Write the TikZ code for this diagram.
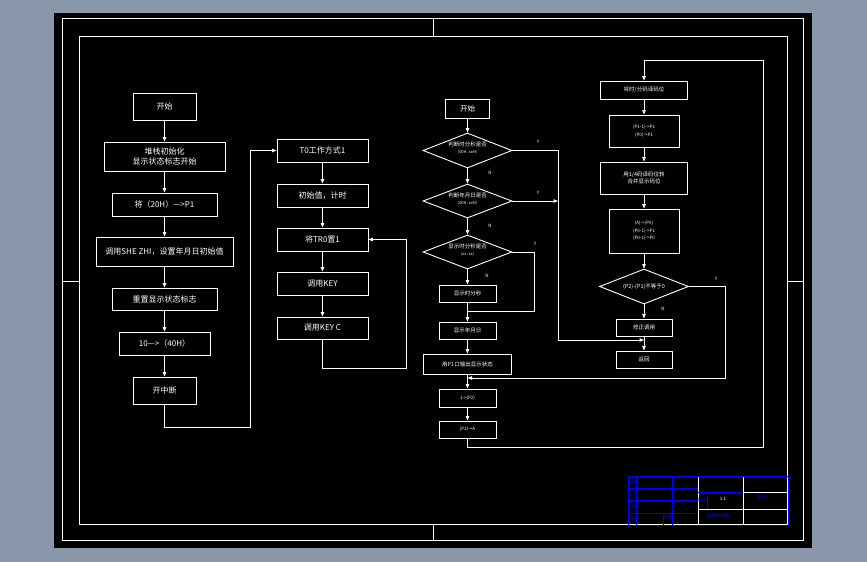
\documentclass[tikz,border=0pt]{standalone}
\usepackage{fontspec}
\setmainfont{Noto Sans CJK SC}
\usetikzlibrary{arrows.meta,shapes.geometric}
\definecolor{bggray}{RGB}{138,151,170}
\begin{document}
\begin{tikzpicture}[x=1pt,y=-1pt,
  ln/.style={draw=white,line width=0.9pt},
  box/.style={draw=white,line width=0.9pt,inner sep=0pt,text=white,align=center,font=\fontsize{8}{10}\selectfont},
  sbox/.style={box,font=\fontsize{5.5}{7}\selectfont},
  tbox/.style={box,font=\fontsize{4.5}{7.5}\selectfont},
  dia/.style={diamond,draw=white,line width=0.9pt,inner sep=0pt,minimum width=89pt,minimum height=35pt},
  dtxt/.style={text=white,align=center,inner sep=0pt,font=\fontsize{5.5}{7}\selectfont},
  arr/.style={ln,-{Triangle[length=4.5pt,width=3.5pt]}},
  yn/.style={text=white,font=\fontsize{4.5}{5}\selectfont,inner sep=0pt},
  tb/.style={draw=blue,line width=0.9pt},
  tw/.style={draw=white,line width=0.9pt},
  tbt/.style={text=blue,inner sep=0pt,font=\fontsize{4.5}{5}\selectfont}]
% background and sheet
\useasboundingbox (0,0) rectangle (867,562);
\fill[bggray] (0,0) rectangle (867,562);
\fill[black] (54,13) rectangle (812,548);
% frames
\draw[tw] (62,18) rectangle (803,540);
\draw[tw] (79,36) rectangle (787,524);
\draw[tw] (433,18) -- (433,36);
\draw[tw] (433,524) -- (433,540);
\draw[tw] (62,281) -- (79,281);
\draw[tw] (787,281) -- (803,281);

% ---------- column 1 ----------
\node[box,minimum width=63pt,minimum height=27pt] (c1a) at (164.5,106.5) {开始};
\node[box,minimum width=121pt,minimum height=29pt] (c1b) at (164.5,156.5) {堆栈初始化\\显示状态标志开始};
\node[box,minimum width=105pt,minimum height=23pt] (c1c) at (164.5,204.5) {将（20H）—>P1};
\node[box,minimum width=137pt,minimum height=29pt] (c1d) at (164.5,251.5) {调用SHE ZHI，设置年月日初始值};
\node[box,minimum width=105pt,minimum height=22pt] (c1e) at (164.5,299) {重置显示状态标志};
\node[box,minimum width=91pt,minimum height=23pt] (c1f) at (164.5,343.5) {10—>（40H）};
\node[box,minimum width=63pt,minimum height=27pt] (c1g) at (164.5,390.5) {开中断};
\draw[arr] (c1a.south) -- (c1b.north);
\draw[arr] (c1b.south) -- (c1c.north);
\draw[arr] (c1c.south) -- (c1d.north);
\draw[arr] (c1d.south) -- (c1e.north);
\draw[arr] (c1e.south) -- (c1f.north);
\draw[arr] (c1f.south) -- (c1g.north);

% ---------- column 2 ----------
\node[box,minimum width=91pt,minimum height=23pt] (c2a) at (322.5,150.5) {T0工作方式1};
\node[box,minimum width=91pt,minimum height=23pt] (c2b) at (322.5,195.5) {初始值，计时};
\node[box,minimum width=91pt,minimum height=23pt] (c2c) at (322.5,239.5) {将TR0置1};
\node[box,minimum width=91pt,minimum height=23pt] (c2d) at (322.5,283.5) {调用KEY};
\node[box,minimum width=91pt,minimum height=22pt] (c2e) at (322.5,328) {调用KEY C};
\draw[arr] (c2a.south) -- (c2b.north);
\draw[arr] (c2b.south) -- (c2c.north);
\draw[arr] (c2c.south) -- (c2d.north);
\draw[arr] (c2d.south) -- (c2e.north);
\coordinate (k1) at (250,427);
\draw[arr] (c1g.south) |- (k1) |- (c2a.west);
\coordinate (k2) at (406,368);
\draw[arr] (c2e.south) |- (k2) |- (c2c.east);

% ---------- column 3 ----------
\node[box,font=\fontsize{7.5}{9}\selectfont,minimum width=44pt,minimum height=19pt] (c3a) at (467.5,108.5) {开始};
\node[dia] (d1) at (467.5,150.5) {};
\node[dtxt] (t1) at (467.5,148) {判断时分秒是否\\{\fontsize{4}{5}\selectfont(00H..xxH)}};
\node[dia,minimum height=34pt] (d2) at (467.5,201) {};
\node[dtxt] (t2) at (467.5,199) {判断年月日是否\\{\fontsize{4}{5}\selectfont(00H..xxH)}};
\node[dia,minimum height=34pt] (d3) at (467.5,252) {};
\node[dtxt] (t3) at (467.5,250) {显示时分秒是否\\{\fontsize{4}{5}\selectfont(xx..xx)}};
\node[sbox,minimum width=57pt,minimum height=17pt] (c3b) at (467.5,293.5) {显示时分秒};
\node[sbox,minimum width=57pt,minimum height=17pt] (c3c) at (467.5,330.5) {显示年月日};
\node[sbox,minimum width=88pt,minimum height=20pt] (c3d) at (467.5,364) {用P1口输出显示状态};
\node[tbox,minimum width=57pt,minimum height=18pt] (c3e) at (467.5,398) {1->(P2)};
\node[tbox,minimum width=57pt,minimum height=17pt] (c3f) at (467.5,429.5) {(P2)->A};
\draw[arr] (c3a.south) -- (d1.north);
\draw[arr] (d1.south) -- (d2.north);
\draw[arr] (d2.south) -- (d3.north);
\draw[arr] (d3.south) -- (c3b.north);
\draw[arr] (c3b.south) -- (c3c.north);
\draw[arr] (c3c.south) -- (c3d.north);
\draw[arr] (c3d.south) -- (c3e.north);
\draw[arr] (c3e.south) -- (c3f.north);
\coordinate (j3) at (467.5,311);
\draw[ln] (d3.east) -- ++(22,0) |- (j3);
\coordinate (j2) at (558,201);
\draw[arr] (d2.east) -- (j2);
\coordinate (m1) at (644,340);
\draw[arr] (d1.east) -- ++(46,0) |- (m1);
\node[yn] (y1) at (538,142) {Y};
\node[yn] (n1) at (490,173) {N};
\node[yn] (y2) at (538,193) {Y};
\node[yn] (n2) at (490,226) {N};
\node[yn] (y3) at (535,244) {Y};
\node[yn] (n3) at (487,276) {N};

% ---------- column 4 ----------
\node[sbox,minimum width=87pt,minimum height=18pt] (c4a) at (644,90) {将时/分码译码位};
\node[tbox,minimum width=70pt,minimum height=32pt] (c4b) at (644,131) {(P1-1)->P1\\(P0)->P1};
\node[sbox,minimum width=87pt,minimum height=32pt] (c4c) at (644,178) {用1/4码译码位转\\合并显示码位};
\node[tbox,minimum width=70pt,minimum height=44pt] (c4d) at (644,231) {(A)->(P0)\\(P0-1)->P1\\(P0-1)->P0};
\node[dia] (d4) at (644,286.5) {};
\node[dtxt] (t4) at (644,286.5) {(P2)-(P1)不等于0};
\node[sbox,minimum width=56pt,minimum height=17pt] (c4e) at (644,327.5) {修正调用};
\node[sbox,minimum width=56pt,minimum height=17pt] (c4f) at (644,359.5) {返回};
\draw[arr] (c4a.south) -- (c4b.north);
\draw[arr] (c4b.south) -- (c4c.north);
\draw[arr] (c4c.south) -- (c4d.north);
\draw[arr] (c4d.south) -- (d4.north);
\draw[arr] (d4.south) -- (c4e.north);
\draw[arr] (c4e.south) -- (c4f.north);
\node[yn] (y4) at (716,279) {Y};
\node[yn] (n4) at (663,309) {N};
\coordinate (c4y) at (725,378);
\coordinate (j4) at (467.5,378);
\draw[arr] (d4.east) -| (c4y) -- (j4);
\coordinate (lpA) at (763,447);
\coordinate (lpB) at (763,60);
\draw[arr] (c3f.south) |- (lpA) -- (lpB) -| (c4a.north);

% ---------- title block ----------
\draw[tw] (698,476) -- (698,525);
\draw[tw] (743,476) -- (743,525);
\draw[tw] (743,492) -- (788,492);
\draw[tw] (698,509) -- (788,509);
\draw[tb] (628,476) rectangle (788,525);
\draw[tb] (636,476) -- (636,525);
\draw[tb] (672,476) -- (672,525);
\draw[tb] (663,513) -- (663,525);
\draw[tb] (628,488) -- (698,488);
\draw[tb] (628,500) -- (698,500);
\draw[tb] (628,513) -- (698,513);
\draw[tb] (698,492) -- (743,492);
\draw[tb] (707,492) -- (707,509);
\node[tbt] (tb1) at (632,482) {制图};
\node[tbt] (tb2) at (632,494) {设计};
\node[tbt] (tb3) at (632,506.5) {审核};
\node[tbt] (tb4) at (632,519) {日期};
\node[tbt] (tb5) at (702.5,500) {比例};
\node[yn] (tb6) at (723,499) {1:1};
\node[tbt] (tb7) at (762,497) {图号};
\node[tbt] (tb8) at (718,516) {单片机控制};
\node[tbt] (tb9) at (667.5,517) {学号};
\end{tikzpicture}
\end{document}
